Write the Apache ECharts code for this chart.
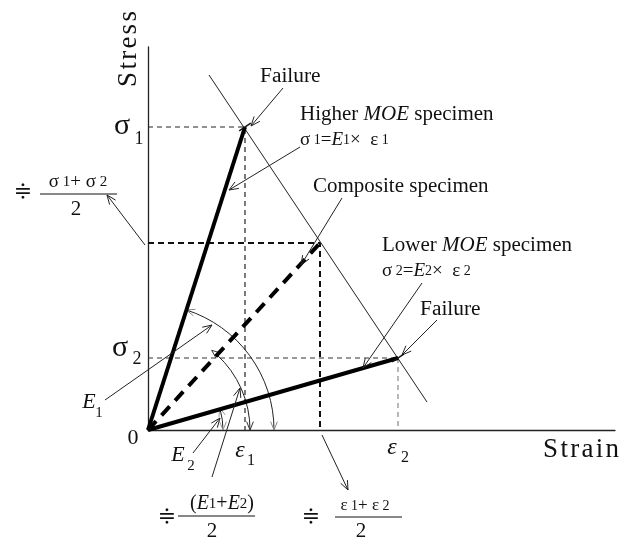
<!DOCTYPE html>
<html><head><meta charset="utf-8">
<script src="https://cdn.jsdelivr.net/npm/echarts@6/dist/echarts.min.js"></script>
<style>html,body{margin:0;padding:0;background:#fff}#c{width:632px;height:540px}</style>
</head><body><div id="c"></div>
<script>
// ---- schematic values (arbitrary strain / stress units) ----
var strainMax = 4.67, stressMax = 3.83;
var failStrain = [0.97, 2.50];          // ε1, ε2
var failStress = [3.03, 0.72];          // σ1, σ2
var compStrain = 1.72, compStress = 1.87; // composite specimen
var envelopeStrain = [0.61, 2.79];
var envelopeStress = [3.55, 0.28];
var arcRadius = [1.26, 1.02, 0.75];     // E1 arc, mean arc, E2 arc
var arrowFrom = [[1.35,3.42],[1.52,2.83],[1.94,2.32],[2.74,1.47],[2.89,1.10],[-0.03,1.85],[-0.43,0.30],[0.45,-0.23],[0.64,-0.47],[1.74,-0.05]];
var arrowTo   = [[1.03,3.04],[0.81,2.40],[1.53,1.65],[2.15,0.62],[2.54,0.75],[-0.41,2.35],[0.64,1.05],[0.72,0.12],[0.92,0.42],[2.00,-0.60]];

var SERIF = "'Liberation Serif','DejaVu Serif',serif";
var INK = '#111';

function head(tip, d, color, L){
  L = L || 9; var a = 22*Math.PI/180, pts = [];
  [a, -a].forEach(function(t){
    var rx = d[0]*Math.cos(t) - d[1]*Math.sin(t);
    var ry = d[0]*Math.sin(t) + d[1]*Math.cos(t);
    pts.push([tip[0]-L*rx, tip[1]-L*ry]);
  });
  return {type:'polyline', shape:{points:[pts[0], tip, pts[1]]}, style:{stroke:color, lineWidth:1, fill:'none'}};
}

function renderArrow(params, api){
  var p1 = api.coord([api.value(0), api.value(1)]);
  var p2 = api.coord([api.value(2), api.value(3)]);
  var dx = p2[0]-p1[0], dy = p2[1]-p1[1], len = Math.sqrt(dx*dx+dy*dy);
  var d = [dx/len, dy/len];
  return {type:'group', children:[
    {type:'line', shape:{x1:p1[0], y1:p1[1], x2:p2[0], y2:p2[1]}, style:{stroke:'#222', lineWidth:1}},
    head(p2, d, '#222', 10)
  ]};
}

var arcHeadColor = ['#888', '#333', '#999'];
function renderArc(params, api){
  var c = api.coord([0,0]);
  var r = api.size([api.value(0), 0])[0];
  var p = api.coord([api.value(1), api.value(2)]);
  var a0 = Math.atan2(p[1]-c[1], p[0]-c[0]);
  var gap = api.value(3)*Math.PI/180;
  var col = arcHeadColor[params.dataIndex];
  var as = a0 + gap;
  var tipS = [c[0]+r*Math.cos(as), c[1]+r*Math.sin(as)];
  return {type:'group', children:[
    {type:'arc', shape:{cx:c[0], cy:c[1], r:r, startAngle:a0, endAngle:0, clockwise:true}, style:{stroke:'#222', lineWidth:1, fill:'none'}},
    head([c[0]+r, c[1]], [0,1], col, 9),
    head(tipS, [Math.sin(as), -Math.cos(as)], col, 9)
  ]};
}

function renderFailMark(params, api){
  var p = api.coord([api.value(0), api.value(1)]);
  var e1 = api.coord([envelopeStrain[0], envelopeStress[0]]);
  var e2 = api.coord([envelopeStrain[1], envelopeStress[1]]);
  var dx = e2[0]-e1[0], dy = e2[1]-e1[1], len = Math.sqrt(dx*dx+dy*dy);
  var n = [dy/len, -dx/len], h = 7;
  return {type:'line', shape:{x1:p[0]-h*n[0], y1:p[1]-h*n[1], x2:p[0]+h*n[0], y2:p[1]+h*n[1]}, style:{stroke:'#111', lineWidth:1.3}};
}

function T(x, y, text, size, opt){
  opt = opt || {};
  var align = opt.align || 'center';
  return {type:'text', x:x, y:y, rotation:opt.rot||0, scaleX:opt.sx||1, silent:true, z:100,
    style:{text:text, fontSize:size, fontFamily:SERIF, fontStyle:opt.italic?'italic':'normal', fill:INK,
      align:align, verticalAlign:'middle', textAlign:align, textVerticalAlign:'middle', rich:opt.rich}};
}
function R(size, italic){ return {fontSize:size, fontFamily:SERIF, fontStyle:italic?'italic':'normal', fill:INK}; }
function bar(x1, x2, y){ return {type:'line', silent:true, shape:{x1:x1, y1:y, x2:x2, y2:y}, style:{stroke:INK, lineWidth:1.2}}; }

var hs = '\u200A';
var graphics = [
  T(581, 450, ['S','t','r','a','i','n'].join(hs), 27),
  T(129, 49, ['S','t','r','e','s','s'].join(hs), 27, {rot:Math.PI/2}),
  T(133, 438, '0', 22),
  T(122, 126, 'σ', 30), T(139, 139, '1', 18),
  T(120, 348, 'σ', 30), T(137, 359, '2', 18),
  T(89, 402, 'E', 22, {italic:true}), T(99, 413, '1', 15),
  T(178, 455, 'E', 22, {italic:true}), T(191, 466, '2', 15),
  T(240, 451, 'ε', 24, {italic:true}), T(251, 461, '1', 16),
  T(392, 448, 'ε', 24, {italic:true}), T(405, 458, '2', 16),
  T(260, 77, 'Failure', 20, {align:'left', sx:1.07}),
  T(300, 115, 'Higher {i|MOE} specimen', 20, {align:'left', sx:1.05, rich:{i:R(20,true)}}),
  T(300, 140, '{g|σ}{s| 1}{g|=}{i|E}{s|1}{g|×  ε}{s| 1}', 19, {align:'left', rich:{g:R(19), s:R(14), i:R(19,true)}}),
  T(313, 187, 'Composite specimen', 20, {align:'left', sx:1.05}),
  T(382, 246, 'Lower {i|MOE} specimen', 20, {align:'left', sx:1.05, rich:{i:R(20,true)}}),
  T(382, 271, '{g|σ}{s| 2}{g|=}{i|E}{s|2}{g|×  ε}{s| 2}', 19, {align:'left', rich:{g:R(19), s:R(14), i:R(19,true)}}),
  T(420, 310, 'Failure', 20, {align:'left', sx:1.07}),
  // (σ1+σ2)/2
  T(23, 192, '≑', 22),
  T(78, 182, '{g|σ}{s| 1}{g|+ σ}{s| 2}', 19, {rich:{g:R(19), s:R(15)}}),
  bar(40, 117, 194),
  T(76, 209, '2', 21),
  // (E1+E2)/2
  T(167, 517, '≑', 22),
  T(222, 504, '{g|(}{i|E}{s|1}{g|+}{i|E}{s|2}{g|)}', 20, {rich:{g:R(20), i:R(20,true), s:R(15)}}),
  bar(178, 255, 516),
  T(212, 531, '2', 21),
  // (ε1+ε2)/2
  T(311, 517, '≑', 22),
  T(365, 506, '{g|ε}{s| 1}{g|+ ε}{s| 2}', 17, {rich:{g:R(17), s:R(14)}}),
  bar(335, 402, 517),
  T(361, 531, '2', 21)
];

var lineBase = {type:'line', symbol:'none', silent:true, animation:false};
function L(data, style, z){ return Object.assign({}, lineBase, {data:data, lineStyle:style, z:z||2}); }

var chart = echarts.init(document.getElementById('c'), null, {renderer:'canvas'});
chart.setOption({
  animation:false,
  backgroundColor:'#fff',
  grid:{left:148, top:47, width:467, height:383},
  xAxis:{type:'value', min:0, max:strainMax, axisLine:{show:true, onZero:false, lineStyle:{color:'#222', width:1.3}}, axisTick:{show:false}, axisLabel:{show:false}, splitLine:{show:false}},
  yAxis:{type:'value', min:0, max:stressMax, axisLine:{show:true, onZero:false, lineStyle:{color:'#222', width:1.3}}, axisTick:{show:false}, axisLabel:{show:false}, splitLine:{show:false}},
  series:[
    L([[0, failStress[0]], [failStrain[0], failStress[0]], [failStrain[0], 0]], {color:'#222', width:1.2, type:[5,4]}),
    L([[0, compStress], [compStrain, compStress], [compStrain, 0]], {color:'#111', width:2, type:[6,4]}),
    L([[0, failStress[1]], [failStrain[1], failStress[1]]], {color:'#333', width:1.2, type:[5,4]}),
    L([[failStrain[1], failStress[1]], [failStrain[1], 0]], {color:'#888', width:1.2, type:[5,4]}),
    L([[envelopeStrain[0], envelopeStress[0]], [envelopeStrain[1], envelopeStress[1]]], {color:'#222', width:1}),
    L([[0,0], [failStrain[0], failStress[0]]], {color:'#000', width:4}, 5),
    L([[0,0], [failStrain[1], failStress[1]]], {color:'#000', width:4}, 5),
    L([[0,0], [compStrain, compStress]], {color:'#000', width:4, type:[12,8]}, 5),
    {type:'custom', renderItem:renderArc, clip:false, silent:true, z:4, encode:{x:1, y:2},
      data:[[arcRadius[0], failStrain[0], failStress[0], 0], [arcRadius[1], compStrain, compStress, -4], [arcRadius[2], failStrain[1], failStress[1], -1]]},
    {type:'custom', renderItem:renderArrow, clip:false, silent:true, z:6, encode:{x:[0,2], y:[1,3]},
      data:arrowFrom.map(function(f, i){ return [f[0], f[1], arrowTo[i][0], arrowTo[i][1]]; })},
    {type:'custom', renderItem:renderFailMark, clip:false, silent:true, z:6, encode:{x:0, y:1},
      data:[[failStrain[0], failStress[0]], [failStrain[1], failStress[1]]]}
  ],
  graphic:graphics
});
</script>
</body></html>
